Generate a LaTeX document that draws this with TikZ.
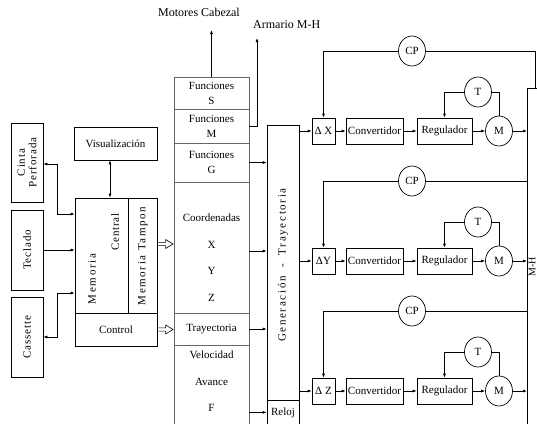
\documentclass[tikz,border=0pt]{standalone}
\usepackage{fontspec}
\setmainfont{Liberation Serif}
\newfontfamily\spc[LetterSpace=15]{Liberation Serif}
\newfontfamily\spb[LetterSpace=8]{Liberation Serif}
\usetikzlibrary{arrows.meta,shapes.geometric,calc}
\begin{document}
\begin{tikzpicture}[x=1pt,y=-1pt,
  >={Latex[length=4pt,width=3pt]},
  every node/.style={font=\fontsize{11}{15}\selectfont, inner sep=0pt, align=center},
  ln/.style={line width=0.7pt},
  bx/.style 2 args={draw, line width=0.7pt, rectangle, minimum width=#1, minimum height=#2},
  fbx/.style={draw=black!60, line width=0.9pt, rectangle, minimum width=75},
  ell/.style={draw, line width=0.7pt, ellipse, minimum width=27, minimum height=30},
  rot/.style={rotate=90, font=\spc\fontsize{11}{12}\selectfont},
  rotb/.style={rotate=90, font=\spb\fontsize{11}{11.5}\selectfont},
  big/.style={font=\fontsize{12}{14}\selectfont}
]
\useasboundingbox (0,0) rectangle (537,423);

% left input devices
\node[bx={32}{79}] (cinta) at (27,162.5) {};
\node[rotb] at (cinta) {Cinta\\Perforada};
\node[bx={32}{80}] (tec) at (27,250) {};
\node[rotb] at (tec) {Teclado};
\node[bx={32}{80}] (cas) at (27,337) {};
\node[rotb] at (cas) {Cassette};

% visualization and memory
\node[bx={83}{33}] (vis) at (115.5,143.5) {Visualización};
\node[bx={82}{115}] (mem) at (116,255.5) {};
\node[bx={82}{33}] (ctrl) at (116,329.5) {Control};
\draw[ln] (mem.north west) ++(54,0) -- ++(0,115);
\node[rot] at (92,279) {Memoria};
\node[rotb] at (115,232) {Central};
\node[rot] at (143,256) {Memoria Tampon};

\coordinate (c1) at (57,164);
\coordinate (c2) at (57,214);
\coordinate (c3) at (57,293);
\coordinate (c4) at (57,337);
\coordinate (vx) at (110,0);
\draw[ln,<->] (cinta.east |- c1) -- (c1) -- (c2) -- (mem.west |- c2);
\draw[ln,->] (tec.east) -- (tec.east -| mem.west);
\draw[ln,<->] (mem.west |- c3) -- (c3) -- (c4) -- (cas.east |- c4);
\draw[ln,<->] (vis.south -| vx) -- (mem.north -| vx);

% function column
\node[fbx, minimum height=32] (fS) at (211.5,93) {Funciones\\S};
\node[fbx, minimum height=34] (fM) at (211.5,126) {Funciones\\M};
\node[fbx, minimum height=39] (fG) at (211.5,162.5) {Funciones\\G};
\node[fbx, minimum height=131] (fC) at (211.5,247.5) {};
\node[font=\fontsize{11}{26.5}\selectfont] at (211.5,257.5) {Coordenadas\\X\\Y\\Z};
\node[fbx, minimum height=32] (fT) at (211.5,329) {Trayectoria};
\node[fbx, minimum height=85] (fV) at (211.5,387.5) {};
\node[font=\fontsize{11}{26.5}\selectfont] at (211.5,381.5) {Velocidad\\Avance\\F};

% hollow block arrows
\coordinate (h1s) at (mem.east |- 0,244);
\coordinate (h1e) at (fC.west |- 0,244);
\coordinate (h2s) at (ctrl.east);
\coordinate (h2e) at (ctrl.east -| fT.west);
\foreach \s/\e in {h1s/h1e, h2s/h2e}{
  \draw[line width=0.6pt, fill=white]
    ($(\s)+(1,-1.6)$) -- ($(\e)+(-8,-1.6)$) -- ($(\e)+(-8,-4.5)$) -- ($(\e)+(-0.5,0)$)
    -- ($(\e)+(-8,4.5)$) -- ($(\e)+(-8,1.6)$) -- ($(\s)+(1,1.6)$);
}

% top outputs
\node[big] (mot) at (199,12) {Motores Cabezal};
\node[big, anchor=west] (arm) at (253,25) {Armario M-H};
\coordinate (motend) at (211.5,30);
\coordinate (armend) at (257,38);
\draw[ln,->] (fS.north) -- (motend);
\draw[ln,->] (fM.east) -| (armend);

% generation
\node[bx={32}{275}] (gen) at (283,262.5) {};
\node[rot] at (283,265) {Generación~~-~~Trayectoria};
\node[bx={32}{24}, anchor=north] (reloj) at (283,400) {Reloj};

\draw[ln,->] (fG.east) -- (fG.east -| gen.west);
\draw[ln,->] (fC.east |- 0,251) -- (gen.west |- 0,251);
\draw[ln,->] (fT.east) -- (fT.east -| gen.west);
\draw[ln,->] (fV.east |- reloj) -- (reloj.west);

% machine box
\node[draw, line width=0.7pt, minimum width=40, minimum height=360, anchor=north west] (mh) at (527,88) {};
\node[rotate=90, font=\fontsize{10}{12}\selectfont] at (532,267) {M-H};

% servo loops
\foreach \r/\cy/\lab in {1/131/{Δ X}, 2/261/{ΔY}, 3/391/{Δ Z}}{
  \node[bx={23}{26}] (d\r) at (323.5,\cy) {\lab};
  \node[bx={57}{26}] (cv\r) at (374.5,\cy) {Convertidor};
  \node[bx={55}{26}] (rg\r) at (444.5,\cy) {Regulador};
  \node[ell] (m\r) at (499,\cy) {M};
  \node[ell] (t\r) at (478,\cy-39) {T};
  \node[ell] (cp\r) at (412,\cy-80) {CP};
  \draw[ln,->] (gen.east |- d\r) -- (d\r.west);
  \draw[ln,->] (d\r) -- (cv\r);
  \draw[ln,->] (cv\r) -- (rg\r);
  \draw[ln,->] (rg\r) -- (m\r);
  \draw[ln,->] (m\r.east) -- (m\r.east -| mh.west);
  \draw[ln,->] (t\r.west) -| (rg\r.north);
  \draw[ln] (t\r.east) -| (m\r.north);
  \draw[ln,->] (cp\r.west) -| (d\r.north);
}
\draw[ln] (cp1.east) -| ([xshift=8]mh.north west);
\draw[ln] (cp2.east) -- (cp2.east -| mh.west);
\draw[ln] (cp3.east) -- (cp3.east -| mh.west);
\end{tikzpicture}
\end{document}
